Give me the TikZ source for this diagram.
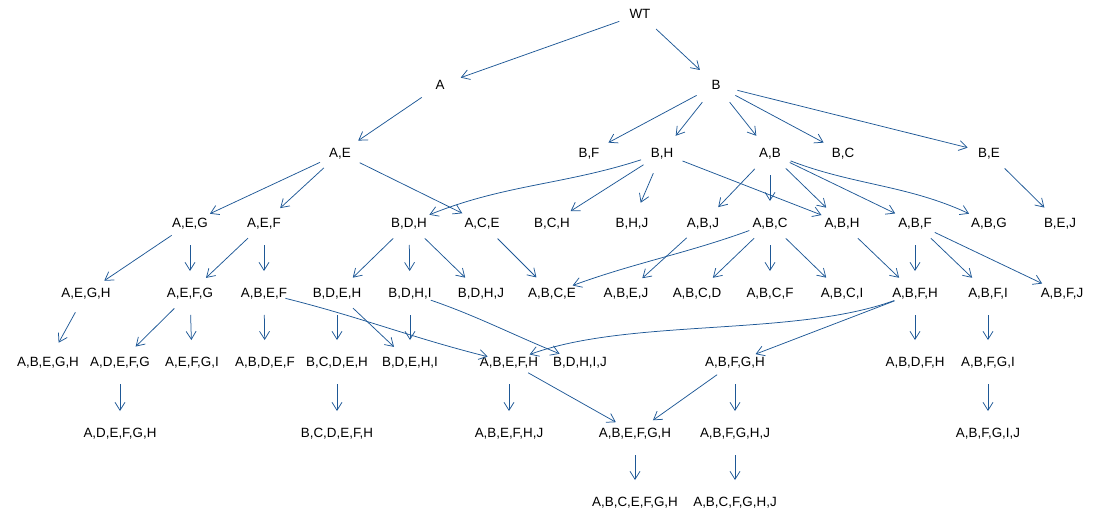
\documentclass[tikz,border=0pt]{standalone}
\usepackage{fontspec}
\setmainfont{Liberation Sans}
\usetikzlibrary{arrows.meta}
\definecolor{edgeblue}{RGB}{30,88,150}

\begin{document}
\begin{tikzpicture}[
    x=1pt, y=1pt, >={Straight Barb[length=8pt, width=10pt]},
    every node/.style={font=\fontsize{13.4}{16}\selectfont, inner sep=0pt, text height=9.5pt, text depth=0pt},
    link/.style={->, draw=edgeblue, line width=0.75pt, shorten >=22pt, shorten <=22pt}
]
\useasboundingbox (0,0) rectangle (1095,-524);

\node (wt) at (640,-14) {WT};

\node (a) at (440,-85) {A};
\node (b) at (716,-85) {B};

\node (a_e) at (340,-153) {A,E};
\node (b_f) at (589,-153) {B,F};
\node (b_h) at (662,-153) {B,H};
\node (a_b) at (770,-153) {A,B};
\node (b_c) at (843,-153) {B,C};
\node (b_e) at (989,-153) {B,E};

\node (a_e_g) at (190,-223) {A,E,G};
\node (a_e_f) at (264,-223) {A,E,F};
\node (b_d_h) at (409,-223) {B,D,H};
\node (a_c_e) at (482,-223) {A,C,E};
\node (b_c_h) at (552,-223) {B,C,H};
\node (b_h_j) at (632,-223) {B,H,J};
\node (a_b_j) at (703,-223) {A,B,J};
\node (a_b_c) at (770,-223) {A,B,C};
\node (a_b_h) at (842,-223) {A,B,H};
\node (a_b_f) at (915,-223) {A,B,F};
\node (a_b_g) at (989,-223) {A,B,G};
\node (b_e_j) at (1060,-223) {B,E,J};

\node (a_e_g_h) at (86,-293) {A,E,G,H};
\node (a_e_f_g) at (190,-293) {A,E,F,G};
\node (a_b_e_f) at (264,-293) {A,B,E,F};
\node (b_d_e_h) at (337,-293) {B,D,E,H};
\node (b_d_h_i) at (410,-293) {B,D,H,I};
\node (b_d_h_j) at (481,-293) {B,D,H,J};
\node (a_b_c_e) at (552,-293) {A,B,C,E};
\node (a_b_e_j) at (626,-293) {A,B,E,J};
\node (a_b_c_d) at (697,-293) {A,B,C,D};
\node (a_b_c_f) at (770,-293) {A,B,C,F};
\node (a_b_c_i) at (842,-293) {A,B,C,I};
\node (a_b_f_h) at (915,-293) {A,B,F,H};
\node (a_b_f_i) at (988,-293) {A,B,F,I};
\node (a_b_f_j) at (1062,-293) {A,B,F,J};

\node (a_b_e_g_h) at (48,-362) {A,B,E,G,H};
\node (a_d_e_f_g) at (120,-362) {A,D,E,F,G};
\node (a_e_f_g_i) at (192,-362) {A,E,F,G,I};
\node (a_b_d_e_f) at (265,-362) {A,B,D,E,F};
\node (b_c_d_e_h) at (337,-362) {B,C,D,E,H};
\node (b_d_e_h_i) at (410,-362) {B,D,E,H,I};
\node (a_b_e_f_h) at (509,-362) {A,B,E,F,H};
\node (b_d_h_i_j) at (580,-362) {B,D,H,I,J};
\node (a_b_f_g_h) at (735,-362) {A,B,F,G,H};
\node (a_b_d_f_h) at (915,-362) {A,B,D,F,H};
\node (a_b_f_g_i) at (988,-362) {A,B,F,G,I};

\node (a_d_e_f_g_h) at (120,-433) {A,D,E,F,G,H};
\node (b_c_d_e_f_h) at (337,-433) {B,C,D,E,F,H};
\node (a_b_e_f_h_j) at (509,-433) {A,B,E,F,H,J};
\node (a_b_e_f_g_h) at (635,-433) {A,B,E,F,G,H};
\node (a_b_f_g_h_j) at (735,-433) {A,B,F,G,H,J};
\node (a_b_f_g_i_j) at (988,-433) {A,B,F,G,I,J};

\node (a_b_c_e_f_g_h) at (635,-502) {A,B,C,E,F,G,H};
\node (a_b_c_f_g_h_j) at (735,-502) {A,B,C,F,G,H,J};

\draw[link] (wt.center) -- (a.center);
\draw[link] (wt.center) -- (b.center);
\draw[link] (a.center) -- (a_e.center);
\draw[link] (b.center) -- (b_f.center);
\draw[link] (b.center) -- (b_h.center);
\draw[link] (b.center) -- (a_b.center);
\draw[link] (b.center) -- (b_c.center);
\draw[link] (b.center) -- (b_e.center);

\draw[link] (a_e.center) -- (a_e_g.center);
\draw[link] (a_e.center) -- (a_e_f.center);
\draw[link] (a_e.center) -- (a_c_e.center);
\draw[link] (b_h.center) to[out=198, in=22] (b_d_h.center);
\draw[link] (b_h.center) -- (b_c_h.center);
\draw[link] (b_h.center) -- (b_h_j.center);
\draw[link] (b_h.center) -- (a_b_h.center);
\draw[link] (a_b.center) -- (a_b_j.center);
\draw[link] (a_b.center) -- (a_b_c.center);
\draw[link] (a_b.center) -- (a_b_h.center);
\draw[link] (a_b.center) -- (a_b_f.center);
\draw[link] (a_b.center) to[out=-21, in=155] (a_b_g.center);
\draw[link] (b_e.center) -- (b_e_j.center);

\draw[link] (a_e_g.center) -- (a_e_g_h.center);
\draw[link] (a_e_g.center) -- (a_e_f_g.center);
\draw[link] (a_e_f.center) -- (a_e_f_g.center);
\draw[link] (a_e_f.center) -- (a_b_e_f.center);
\draw[link] (b_d_h.center) -- (b_d_e_h.center);
\draw[link] (b_d_h.center) -- (b_d_h_i.center);
\draw[link] (b_d_h.center) -- (b_d_h_j.center);
\draw[link] (a_c_e.center) -- (a_b_c_e.center);
\draw[link] (a_b_j.center) -- (a_b_e_j.center);
\draw[link] (a_b_c.center) to[out=200, in=20] (a_b_c_e.center);
\draw[link] (a_b_c.center) -- (a_b_c_d.center);
\draw[link] (a_b_c.center) -- (a_b_c_f.center);
\draw[link] (a_b_c.center) -- (a_b_c_i.center);
\draw[link] (a_b_h.center) -- (a_b_f_h.center);
\draw[link] (a_b_f.center) -- (a_b_f_h.center);
\draw[link] (a_b_f.center) -- (a_b_f_i.center);
\draw[link] (a_b_f.center) -- (a_b_f_j.center);

\draw[link] (a_e_g_h.center) -- (a_b_e_g_h.center);
\draw[link] (a_e_f_g.center) -- (a_d_e_f_g.center);
\draw[link] (a_e_f_g.center) -- (a_e_f_g_i.center);
\draw[link] (a_b_e_f.center) -- (a_b_d_e_f.center);
\draw[link] (a_b_e_f.center) to[out=-14, in=166] (a_b_e_f_h.center);
\draw[link] (b_d_e_h.center) -- (b_c_d_e_h.center);
\draw[link] (b_d_e_h.center) -- (b_d_e_h_i.center);
\draw[link] (b_d_h_i.center) -- (b_d_e_h_i.center);
\draw[link] (b_d_h_i.center) to[out=-19, in=158] (b_d_h_i_j.center);
\draw[link] (a_b_f_h.center) to[out=200, in=20, looseness=0.8] (a_b_e_f_h.center);
\draw[link] (a_b_f_h.center) -- (a_b_f_g_h.center);
\draw[link] (a_b_f_h.center) -- (a_b_d_f_h.center);
\draw[link] (a_b_f_i.center) -- (a_b_f_g_i.center);

\draw[link] (a_d_e_f_g.center) -- (a_d_e_f_g_h.center);
\draw[link] (b_c_d_e_h.center) -- (b_c_d_e_f_h.center);
\draw[link] (a_b_e_f_h.center) -- (a_b_e_f_h_j.center);
\draw[link] (a_b_e_f_h.center) -- (a_b_e_f_g_h.center);
\draw[link] (a_b_f_g_h.center) -- (a_b_e_f_g_h.center);
\draw[link] (a_b_f_g_h.center) -- (a_b_f_g_h_j.center);
\draw[link] (a_b_f_g_i.center) -- (a_b_f_g_i_j.center);

\draw[link] (a_b_e_f_g_h.center) -- (a_b_c_e_f_g_h.center);
\draw[link] (a_b_f_g_h_j.center) -- (a_b_c_f_g_h_j.center);
\end{tikzpicture}
\end{document}
